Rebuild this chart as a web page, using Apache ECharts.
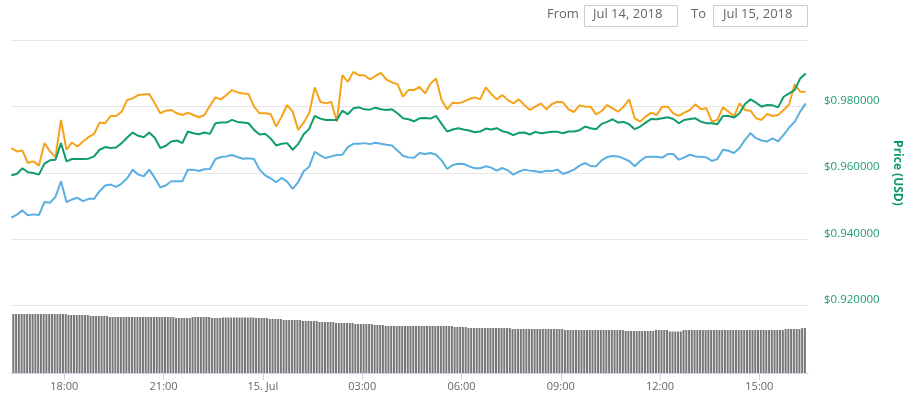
<!DOCTYPE html>
<html><head><meta charset="utf-8">
<script src="https://cdn.jsdelivr.net/npm/echarts@6/dist/echarts.min.js"></script>
<style>html,body{margin:0;padding:0;background:#fff}#c{width:907px;height:396px}</style>
</head><body><div id="c"></div>
<script>
// time in hours since Jul 14 00:00
const lineStart = 16.40, lineStep = 1 / 6;     // 10-minute samples
const barStart = 16.46, barStep = 1 / 12;      // 5-minute volume bars
const tickHours = [18, 21, 24, 27, 30, 33, 36, 39];
const tickLabels = ['18:00', '21:00', '15. Jul', '03:00', '06:00', '09:00', '12:00', '15:00'];
const fromDate = 'Jul 14, 2018', toDate = 'Jul 15, 2018';

const orange = [
.9675,.9665,.9668,.9630,.9635,.9622,.9690,.9665,.9648,.9760,
.9670,.9692,.9680,.9695,.9708,.9718,.9752,.9750,.9772,.9772,
.9785,.9820,.9825,.9835,.9837,.9838,.9810,.9780,.9788,.9790,
.9780,.9775,.9782,.9775,.9768,.9775,.9803,.9828,.9822,.9835,
.9850,.9843,.9840,.9838,.9800,.9780,.9780,.9778,.9740,.9770,
.9805,.9785,.9730,.9752,.9780,.9858,.9815,.9810,.9815,.9755,
.9895,.9875,.9905,.9895,.9895,.9882,.9893,.9902,.9882,.9873,
.9868,.9830,.9850,.9850,.9860,.9840,.9870,.9885,.9820,.9792,
.9812,.9810,.9815,.9823,.9828,.9822,.9858,.9838,.9822,.9835,
.9820,.9810,.9822,.9805,.9790,.9800,.9810,.9792,.9808,.9815,
.9813,.9792,.9784,.9804,.9800,.9800,.9777,.9787,.9805,.9795,
.9785,.9800,.9822,.9765,.9755,.9770,.9782,.9775,.9800,.9800,
.9780,.9772,.9782,.9790,.9807,.9792,.9795,.9755,.9760,.9798,
.9785,.9770,.9810,.9790,.9788,.9765,.9760,.9778,.9772,.9775,
.9790,.9807,.9868,.9845,.9845];

const green = [
.9593,.9597,.9614,.9602,.9600,.9595,.9628,.9638,.9640,.9690,
.9635,.9642,.9642,.9642,.9643,.9650,.9670,.9678,.9675,.9677,
.9690,.9707,.9722,.9712,.9708,.9722,.9706,.9675,.9682,.9695,
.9698,.9690,.9725,.9720,.9717,.9722,.9718,.9750,.9752,.9752,
.9760,.9754,.9752,.9750,.9730,.9716,.9718,.9704,.9683,.9688,
.9690,.9670,.9687,.9717,.9733,.9772,.9764,.9760,.9760,.9760,
.9788,.9777,.9795,.9798,.9792,.9791,.9797,.9792,.9790,.9792,
.9780,.9765,.9762,.9756,.9765,.9766,.9764,.9772,.9748,.9725,
.9731,.9735,.9731,.9728,.9723,.9725,.9734,.9731,.9735,.9726,
.9722,.9714,.9721,.9722,.9716,.9724,.9720,.9722,.9724,.9724,
.9720,.9725,.9725,.9729,.9740,.9735,.9732,.9748,.9754,.9762,
.9752,.9754,.9747,.9732,.9740,.9752,.9763,.9762,.9765,.9768,
.9763,.9750,.9760,.9763,.9765,.9755,.9750,.9750,.9747,.9772,
.9772,.9767,.9780,.9808,.9822,.9812,.9800,.9805,.9804,.9798,
.9830,.9840,.9850,.9885,.9900];

const blue = [
.9465,.9474,.9487,.9472,.9475,.9473,.9512,.9510,.9528,.9575,
.9512,.9520,.9525,.9515,.9522,.9522,.9545,.9562,.9565,.9558,
.9568,.9584,.9610,.9595,.9590,.9610,.9585,.9557,.9562,.9575,
.9575,.9575,.9610,.9610,.9606,.9611,.9612,.9642,.9648,.9650,
.9654,.9648,.9643,.9644,.9642,.9610,.9593,.9584,.9572,.9585,
.9574,.9552,.9572,.9605,.9619,.9664,.9653,.9645,.9650,.9654,
.9655,.9678,.9688,.9688,.9690,.9687,.9691,.9688,.9685,.9683,
.9668,.9652,.9647,.9646,.9660,.9657,.9660,.9655,.9638,.9612,
.9624,.9628,.9627,.9620,.9614,.9614,.9620,.9616,.9607,.9615,
.9608,.9595,.9604,.9610,.9607,.9605,.9602,.9607,.9606,.9610,
.9597,.9603,.9610,.9622,.9630,.9621,.9620,.9638,.9648,.9651,
.9650,.9643,.9636,.9620,.9636,.9648,.9649,.9649,.9646,.9657,
.9657,.9640,.9647,.9655,.9650,.9649,.9647,.9636,.9642,.9670,
.9667,.9660,.9675,.9700,.9720,.9705,.9698,.9695,.9704,.9695,
.9715,.9737,.9754,.9785,.9810];

const volume = [
59,59,59,59,59,59,59,59,59,59,59,59,59,59,59,59,59,59,59,59,
58,58,58,58,58,58,58,58,
57,57,57,57,57,57,57,
56,56,56,56,56,56,56,56,56,56,56,56,56,56,56,56,56,56,56,56,56,56,56,56,
55,55,55,55,55,55,
56,56,56,56,56,56,56,
55,55,55,55,
55.5,55.5,55.5,55.5,55.5,55.5,55.5,55.5,55.5,55.5,55.5,55.5,
55,55,55,55,55,
54,54,54,54,54,
53,53,53,53,53,53,53,
52,52,52,52,52,52,
51,51,51,51,51,51,
50,50,50,50,50,50,50,
49,49,49,49,49,49,49,
48,48,48,48,
47,47,47,47,47,47,47,47,47,47,47,47,47,47,47,47,47,47,47,47,47,47,47,47,47,
46,46,46,46,46,
45,45,45,45,45,45,45,45,45,45,45,45,45,45,45,45,
44,44,44,44,44,44,44,44,44,44,44,44,44,44,44,44,44,44,44,
43,43,43,43,43,43,43,43,43,43,43,43,43,43,43,43,43,43,43,43,43,43,
42,42,42,42,42,42,42,42,42,42,42,
43,43,43,43,43,
41.5,41.5,41.5,41.5,41.5,
43,43,43,43,43,43,43,43,43,43,43,43,43,43,43,43,43,43,43,43,43,43,43,43,43,43,43,43,43,43,43,43,43,43,43,43,43,
44,44,44,44,44,44,
45,45];

const FONT = 'Open Sans';
const pairs = (arr, start, step) => arr.map((v, i) => [start + i * step, v]);
const xMin = 16.39, xMax = 40.47;

const chart = echarts.init(document.getElementById('c'), null, {renderer: 'canvas'});
chart.setOption({
  animation: false,
  textStyle: {fontFamily: FONT},
  grid: [
    {left: 11, right: 99, top: 40.4, height: 265.1, containLabel: false, outerBoundsMode: 'none'},
    {left: 11, right: 99, top: 310, height: 63, containLabel: false, outerBoundsMode: 'none'}
  ],
  xAxis: [
    {gridIndex: 0, type: 'value', min: xMin, max: xMax, show: false, splitLine: {show: false}},
    {gridIndex: 1, type: 'value', min: xMin, max: xMax,
      axisLine: {show: true, lineStyle: {color: '#ccd6eb'}},
      axisTick: {show: true, length: 7, lineStyle: {color: '#ccd6eb'}, customValues: tickHours},
      splitLine: {show: false},
      axisLabel: {customValues: tickHours, color: '#666', fontSize: 11, fontFamily: FONT, margin: 8,
        formatter: v => { const k = tickHours.indexOf(v); return k >= 0 ? tickLabels[k] : ''; }}
    }
  ],
  yAxis: [
    {gridIndex: 0, type: 'value', position: 'right', min: 0.92, max: 1.0, interval: 0.02,
      axisLine: {show: false}, axisTick: {show: false},
      splitLine: {show: true, lineStyle: {color: '#e6e6e6', width: 1}},
      axisLabel: {color: '#1f9a72', fontSize: 11.5, fontFamily: FONT, margin: 16, verticalAlign: 'bottom',
        formatter: v => v > 0.999 ? '' : '$' + v.toFixed(6)},
      name: 'Price (USD)', nameLocation: 'middle', nameGap: 83, nameRotate: -90,
      nameTextStyle: {color: '#0f9a6c', fontWeight: 'bold', fontSize: 12, fontFamily: FONT}
    },
    {gridIndex: 1, type: 'value', min: 0, max: 63, show: false, splitLine: {show: false}}
  ],
  series: [
    {type: 'bar', xAxisIndex: 1, yAxisIndex: 1, data: pairs(volume, barStart, barStep),
      barWidth: 2, itemStyle: {color: '#777777'}, silent: true},
    {type: 'line', xAxisIndex: 0, yAxisIndex: 0, data: pairs(blue, lineStart, lineStep),
      showSymbol: false, lineStyle: {color: '#5aafe0', width: 2}, itemStyle: {color: '#5aafe0'}},
    {type: 'line', xAxisIndex: 0, yAxisIndex: 0, data: pairs(orange, lineStart, lineStep),
      showSymbol: false, lineStyle: {color: '#f7a21b', width: 2}, itemStyle: {color: '#f7a21b'}},
    {type: 'line', xAxisIndex: 0, yAxisIndex: 0, data: pairs(green, lineStart, lineStep),
      showSymbol: false, lineStyle: {color: '#0f9d6b', width: 2}, itemStyle: {color: '#0f9d6b'}}
  ],
  graphic: [
    {type: 'text', left: 547, top: 8, style: {text: 'From', fill: '#666', font: '13px "Open Sans"'}},
    {type: 'rect', shape: {x: 584.5, y: 5.5, width: 93, height: 21}, style: {fill: '#fff', stroke: '#cccccc', lineWidth: 1}},
    {type: 'text', left: 593, top: 8, style: {text: fromDate, fill: '#666', font: '13px "Open Sans"'}},
    {type: 'text', left: 691, top: 8, style: {text: 'To', fill: '#666', font: '13px "Open Sans"'}},
    {type: 'rect', shape: {x: 713.5, y: 5.5, width: 94, height: 21}, style: {fill: '#fff', stroke: '#cccccc', lineWidth: 1}},
    {type: 'text', left: 723, top: 8, style: {text: toDate, fill: '#666', font: '13px "Open Sans"'}}
  ]
});
</script>
</body></html>
